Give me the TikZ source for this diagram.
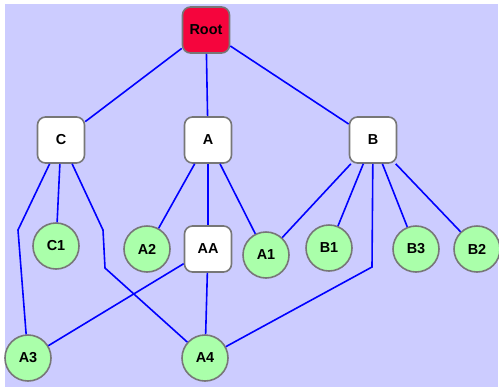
\documentclass[tikz,border=0pt]{standalone}
\usepackage{fontspec}
\setmainfont{Liberation Sans}
\usepackage{xcolor}
\usetikzlibrary{calc}
\definecolor{bglavender}{HTML}{CCCCFF}
\definecolor{rootred}{HTML}{F5053D}
\definecolor{leafgreen}{HTML}{AAFFAA}
\definecolor{edgeblue}{HTML}{0000FF}
\definecolor{bordergrey}{HTML}{777777}

\begin{document}
\begin{tikzpicture}[x=1bp, y=-1bp]
        \useasboundingbox (0, 0) rectangle (499, 387);
        \fill [white] (0, 0) rectangle (499, 387);
        \fill [bglavender] (5, 4) rectangle (498, 387);

        \tikzstyle{box} = [draw=bordergrey, line width=1.6bp, fill=white, rounded corners=8bp,
            minimum width=47bp, minimum height=46bp, inner sep=0pt, font=\fontsize{14.5}{16}\selectfont\bfseries];
        \tikzstyle{leaf} = [draw=bordergrey, line width=1.6bp, fill=leafgreen, circle,
            minimum size=46bp, inner sep=0pt, font=\fontsize{14.5}{16}\selectfont\bfseries];
        \tikzstyle{e} = [draw=edgeblue, line width=1.6bp];

        \node [box, fill=rootred] (Root) at (206, 30) {Root};

        \foreach \na/\x/\y in {C/61/140, A/208/140, B/373/140, AA/208/249}{
            \node [box] (\na) at (\x, \y) {\na};
        }

        \foreach \nb/\x/\y in {C1/56/246, A2/147/249, A1/266/255, B1/329/248,
                               B3/416/249, B2/477/249, A3/28/358, A4/205/358}{
            \node [leaf] (\nb) at (\x, \y) {\nb};
        }

        \foreach \from/\to in {Root/C, Root/A, Root/B, C/C1, A/A2, A/AA, A/A1,
                               AA/A3, AA/A4, B/A1, B/B1, B/B3, B/B2}{
            \draw [e] (\from) -- (\to);
        }

        % bent edges
        \coordinate (CA3a) at (18, 230);
        \coordinate (CA4a) at (103, 230);
        \coordinate (CA4b) at (105, 268);
        \coordinate (BA4a) at (372, 267);

        \draw [e] (C) -- (CA3a) -- (A3);
        \draw [e] (C) -- (CA4a) -- (CA4b) -- (A4);
        \draw [e] (B) -- (BA4a) -- (A4);
    \end{tikzpicture}
\end{document}
